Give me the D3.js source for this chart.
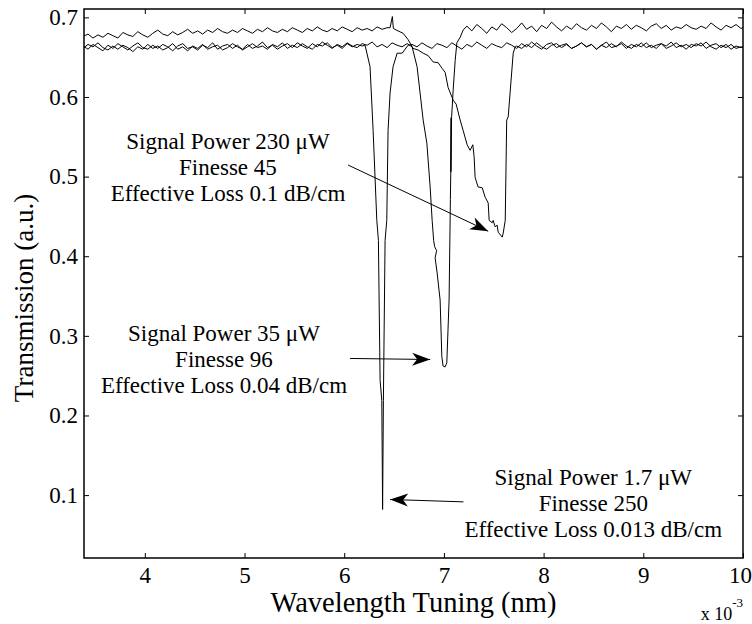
<!DOCTYPE html>
<html>
<head>
<meta charset="UTF-8">
<script src="https://d3js.org/d3.v7.min.js"></script>
<style>
  body { margin: 0; background: #fff; }
  svg text { font-family: "Liberation Serif", "Times New Roman", serif; fill: #000; }
</style>
</head>
<body>
<svg id="chart"></svg>
<script>

// wavelength sweep (nm, x 10^-3) shared by the three traces
var wavelength = [3.38,3.43,3.48,3.53,3.58,3.63,3.68,3.73,3.78,3.83,
  3.88,3.93,3.98,4.03,4.08,4.13,4.18,4.23,4.28,4.33,
  4.38,4.43,4.48,4.53,4.58,4.63,4.68,4.73,4.78,4.83,
  4.88,4.93,4.98,5.03,5.08,5.13,5.18,5.23,5.28,5.33,
  5.38,5.43,5.48,5.53,5.58,5.63,5.68,5.73,5.78,5.83,
  5.88,5.93,5.98,6.03,6.08,6.13,6.18,6.23,6.28,6.33,
  6.38,6.43,6.48,6.53,6.58,6.63,6.68,6.73,6.78,6.83,
  6.88,6.93,6.98,7.03,7.08,7.13,7.18,7.23,7.28,7.33,
  7.38,7.43,7.48,7.53,7.58,7.63,7.68,7.73,7.78,7.83,
  7.88,7.93,7.98,8.03,8.08,8.13,8.18,8.23,8.28,8.33,
  8.38,8.43,8.48,8.53,8.58,8.63,8.68,8.73,8.78,8.83,
  8.88,8.93,8.98,9.03,9.08,9.13,9.18,9.23,9.28,9.33,
  9.38,9.43,9.48,9.53,9.58,9.63,9.68,9.73,9.78,9.83,
  9.88,9.93,9.98,10.03];

// off-resonance transmission on the sweep grid, null where the resonance points take over
var base1_7uW = [0.664,0.660,0.666,0.662,0.658,0.665,0.661,0.667,0.663,0.659,
  0.664,0.668,0.662,0.660,0.665,0.661,0.666,0.663,0.658,0.664,
  0.667,0.661,0.663,0.659,0.665,0.662,0.668,0.660,0.664,0.666,
  0.661,0.665,0.659,0.663,0.667,0.662,0.664,0.660,0.666,0.663,
  0.668,0.661,0.665,0.662,0.667,0.663,0.660,0.666,0.664,0.668,
  0.662,0.665,0.661,0.667,0.663,0.666,0.664,
  null,null,null,null,null,null,null,null,null,
  0.666,0.663,0.668,0.664,0.661,0.667,0.665,0.662,0.668,0.664,
  0.660,0.666,0.663,0.669,0.665,0.661,0.667,0.664,0.662,0.668,
  0.665,0.661,0.667,0.663,0.669,0.664,0.660,0.666,0.668,0.662,
  0.665,0.667,0.661,0.664,0.668,0.663,0.666,0.660,0.665,0.669,
  0.662,0.664,0.667,0.661,0.666,0.663,0.668,0.662,0.665,0.661,
  0.667,0.664,0.669,0.662,0.665,0.660,0.666,0.664,0.668,0.661,
  0.665,0.667,0.662,0.666,0.660,0.664,0.662,0.665];

var base35uW = [0.661,0.666,0.663,0.668,0.662,0.659,0.664,0.660,0.665,0.662,
  0.657,0.663,0.660,0.666,0.661,0.664,0.659,0.662,0.667,0.660,
  0.663,0.658,0.664,0.661,0.666,0.660,0.663,0.665,0.659,0.662,
  0.667,0.663,0.660,0.666,0.661,0.664,0.669,0.662,0.665,0.660,
  0.664,0.667,0.662,0.668,0.664,0.661,0.667,0.663,0.669,0.665,
  0.661,0.666,0.663,0.668,0.664,0.662,0.667,0.665,0.669,0.663,
  0.666,0.662,0.668,0.665,0.663,0.667,
  null,null,null,null,null,null,null,null,null,null,null,
  0.689,0.683,0.691,0.686,0.680,0.688,0.684,0.692,0.687,0.681,
  0.686,0.693,0.685,0.689,0.682,0.690,0.686,0.694,0.688,0.683,
  0.689,0.685,0.692,0.687,0.684,0.690,0.686,0.693,0.688,0.682,
  0.689,0.686,0.691,0.685,0.690,0.687,0.683,0.689,0.692,0.686,
  0.690,0.684,0.688,0.686,0.691,0.687,0.685,0.689,0.686,0.693,
  0.688,0.684,0.690,0.687,0.691,0.686,0.689];

var base230uW = [0.676,0.679,0.674,0.678,0.675,0.680,0.677,0.674,0.681,0.678,
  0.676,0.682,0.678,0.675,0.680,0.684,0.679,0.677,0.682,0.678,
  0.681,0.685,0.680,0.683,0.679,0.684,0.681,0.686,0.682,0.680,
  0.684,0.681,0.686,0.683,0.680,0.685,0.682,0.687,0.683,0.681,
  0.685,0.682,0.687,0.684,0.681,0.686,0.683,0.688,0.684,0.682,
  0.686,0.683,0.688,0.685,0.682,0.687,0.684,0.686,0.683,0.688,
  0.685,0.687,
  null,null,null,null,null,null,null,null,null,null,
  null,null,null,null,null,null,null,null,null,null,
  null,null,null,null,null,
  0.664,0.661,0.666,0.662,0.668,0.663,0.660,0.665,0.667,0.662,
  0.666,0.661,0.664,0.668,0.663,0.666,0.660,0.665,0.662,0.667,
  0.663,0.669,0.664,0.661,0.666,0.663,0.668,0.662,0.665,0.667,
  0.661,0.664,0.668,0.663,0.666,0.662,0.667,0.664,0.669,0.663,
  0.660,0.665,0.662,0.666,0.661,0.663,0.660];

// resonance dips [wavelength, transmission]
var dip1_7uW = [[6.209,0.665],[6.259,0.638],[6.290,0.558],[6.327,0.445],[6.343,0.420],
  [6.360,0.244],[6.377,0.219],[6.385,0.082],[6.393,0.219],[6.410,0.420],[6.427,0.445],
  [6.440,0.558],[6.460,0.605],[6.490,0.638],[6.531,0.655],[6.581,0.655],[6.641,0.665]];

var dip35uW = [[6.681,0.663],[6.731,0.638],[6.761,0.605],[6.792,0.571],[6.829,0.542],
  [6.862,0.487],[6.882,0.445],[6.897,0.420],[6.907,0.412],[6.927,0.407],[6.912,0.398],
  [6.932,0.379],[6.962,0.345],[6.979,0.274],[6.992,0.262],[7.012,0.261],[7.029,0.266],
  [7.052,0.345],[7.065,0.471],[7.069,0.506],[7.072,0.574],[7.070,0.506],[7.077,0.574],
  [7.093,0.609],[7.113,0.646],[7.130,0.668],[7.163,0.675],[7.193,0.684]];

var dip230uW = [[6.460,0.687],[6.483,0.701],[6.493,0.686],[6.540,0.683],[6.591,0.680],
  [6.641,0.672],[6.691,0.661],[6.741,0.659],[6.792,0.655],[6.842,0.652],[6.892,0.644],
  [6.942,0.643],[6.982,0.636],[7.012,0.631],[7.042,0.612],[7.093,0.596],[7.123,0.591],
  [7.163,0.571],[7.193,0.558],[7.233,0.540],[7.263,0.533],[7.290,0.540],[7.303,0.525],
  [7.313,0.499],[7.343,0.487],[7.384,0.486],[7.414,0.474],[7.444,0.467],[7.454,0.445],
  [7.484,0.442],[7.494,0.445],[7.514,0.437],[7.534,0.439],[7.545,0.430],[7.585,0.424],
  [7.595,0.429],[7.615,0.445],[7.630,0.571],[7.645,0.575],[7.695,0.655],[7.715,0.663]];

var xTicks = [4, 5, 6, 7, 8, 9, 10];
var yTicks = [0.1, 0.2, 0.3, 0.4, 0.5, 0.6, 0.7];

// annotation text (centre wavelength, first baseline transmission) and arrows [from, to]
var notes = [
  {lines: ["Signal Power 230 \u03bcW", "Finesse 45", "Effective Loss 0.1 dB/cm"], at: [4.834, 0.5345],
   arrow: [[6.039, 0.5145], [7.444, 0.4315]]},
  {lines: ["Signal Power 35 \u03bcW", "Finesse 96", "Effective Loss 0.04 dB/cm"], at: [4.794, 0.2933],
   arrow: [[6.059, 0.2716], [6.862, 0.2703]]},
  {lines: ["Signal Power 1.7 \u03bcW", "Finesse 250", "Effective Loss 0.013 dB/cm"], at: [8.498, 0.1124],
   arrow: [[7.196, 0.0915], [6.460, 0.0945]]}
];

var width = 752, height = 624;
var margin = {top: 9, right: 9, bottom: 66, left: 84};

var svg = d3.select("#chart")
    .attr("width", width)
    .attr("height", height);

var x = d3.scaleLinear().domain([3.39, 10.0]).range([margin.left, width - margin.right]);
var y = d3.scaleLinear().domain([0.021, 0.7105]).range([height - margin.bottom, margin.top]);

function buildTrace(base, dip) {
  var first = base.indexOf(null), last = base.lastIndexOf(null);
  var pts = [];
  for (var i = 0; i < first; i++) pts.push([wavelength[i], base[i]]);
  pts = pts.concat(dip);
  for (var j = last + 1; j < base.length; j++) pts.push([wavelength[j], base[j]]);
  return pts;
}

var traces = [buildTrace(base230uW, dip230uW), buildTrace(base35uW, dip35uW), buildTrace(base1_7uW, dip1_7uW)];

svg.append("defs").append("clipPath").attr("id", "plotclip")
  .append("rect")
    .attr("x", margin.left).attr("y", margin.top)
    .attr("width", width - margin.left - margin.right)
    .attr("height", height - margin.top - margin.bottom);

var line = d3.line().x(function(d) { return x(d[0]); }).y(function(d) { return y(d[1]); });

svg.append("g").attr("clip-path", "url(#plotclip)")
  .selectAll("path")
  .data(traces)
  .enter().append("path")
    .attr("d", line)
    .attr("fill", "none")
    .attr("stroke", "#000")
    .attr("stroke-width", 1)
    .attr("stroke-linejoin", "round");

// axes, ticks pointing inward on all four sides
var bottom = height - margin.bottom, right = width - margin.right;

svg.append("g").attr("class", "axis")
    .attr("transform", "translate(0," + bottom + ")")
    .call(d3.axisBottom(x).tickValues(xTicks).tickFormat(d3.format("d"))
      .tickSizeInner(-5).tickSizeOuter(0).tickPadding(9));
svg.append("g").attr("class", "axis")
    .attr("transform", "translate(" + margin.left + ",0)")
    .call(d3.axisLeft(y).tickValues(yTicks).tickFormat(d3.format(".1f"))
      .tickSizeInner(-5).tickSizeOuter(0).tickPadding(6));
svg.append("g").attr("class", "axis")
    .attr("transform", "translate(0," + margin.top + ")")
    .call(d3.axisTop(x).tickValues(xTicks).tickFormat("").tickSizeInner(-5).tickSizeOuter(0));
svg.append("g").attr("class", "axis")
    .attr("transform", "translate(" + right + ",0)")
    .call(d3.axisRight(y).tickValues(yTicks).tickFormat("").tickSizeInner(-5).tickSizeOuter(0));

svg.selectAll(".axis .domain").remove();
svg.selectAll(".axis line").attr("stroke", "#000").attr("stroke-width", 1);
svg.selectAll(".axis text").style("font-size", "23px").style("font-family", "'Liberation Serif', serif");

// last x label sits against the page edge
svg.selectAll(".axis .tick text")
  .filter(function(d) { return d === 10; })
    .attr("dx", "-3");

svg.append("rect")
    .attr("x", margin.left).attr("y", margin.top)
    .attr("width", right - margin.left).attr("height", bottom - margin.top)
    .attr("fill", "none").attr("stroke", "#000").attr("stroke-width", 1.5);

// axis titles
svg.append("text")
    .attr("x", (margin.left + right) / 2).attr("y", 612)
    .attr("text-anchor", "middle")
    .style("font-size", "28.5px")
    .text("Wavelength Tuning (nm)");

svg.append("text")
    .attr("transform", "translate(33,298) rotate(-90)")
    .attr("text-anchor", "middle")
    .style("font-size", "27px")
    .text("Transmission (a.u.)");

var expo = svg.append("text")
    .attr("x", right).attr("y", 620)
    .attr("text-anchor", "end")
    .style("font-size", "18px");
expo.append("tspan").text("x 10");
expo.append("tspan").attr("dy", -13).style("font-size", "13px").text("-3");

// annotations
svg.select("defs").append("marker")
    .attr("id", "head")
    .attr("viewBox", "-20 -8 22 16")
    .attr("refX", 0).attr("refY", 0)
    .attr("markerWidth", 22).attr("markerHeight", 16)
    .attr("markerUnits", "userSpaceOnUse")
    .attr("orient", "auto")
  .append("path")
    .attr("d", "M0,0L-18,-6.5L-13,0L-18,6.5Z")
    .attr("fill", "#000");

var note = svg.selectAll("g.note")
  .data(notes)
  .enter().append("g")
    .attr("class", "note");

note.append("line")
    .attr("x1", function(d) { return x(d.arrow[0][0]); })
    .attr("y1", function(d) { return y(d.arrow[0][1]); })
    .attr("x2", function(d) { return x(d.arrow[1][0]); })
    .attr("y2", function(d) { return y(d.arrow[1][1]); })
    .attr("stroke", "#000")
    .attr("stroke-width", 1)
    .attr("marker-end", "url(#head)");

note.each(function(d) {
  var t = d3.select(this).append("text")
      .attr("text-anchor", "middle")
      .style("font-size", "23px");
  d.lines.forEach(function(s, i) {
    t.append("tspan")
        .attr("x", x(d.at[0]))
        .attr("y", y(d.at[1]) + i * 26)
        .text(s);
  });
});

</script>
</body>
</html>
